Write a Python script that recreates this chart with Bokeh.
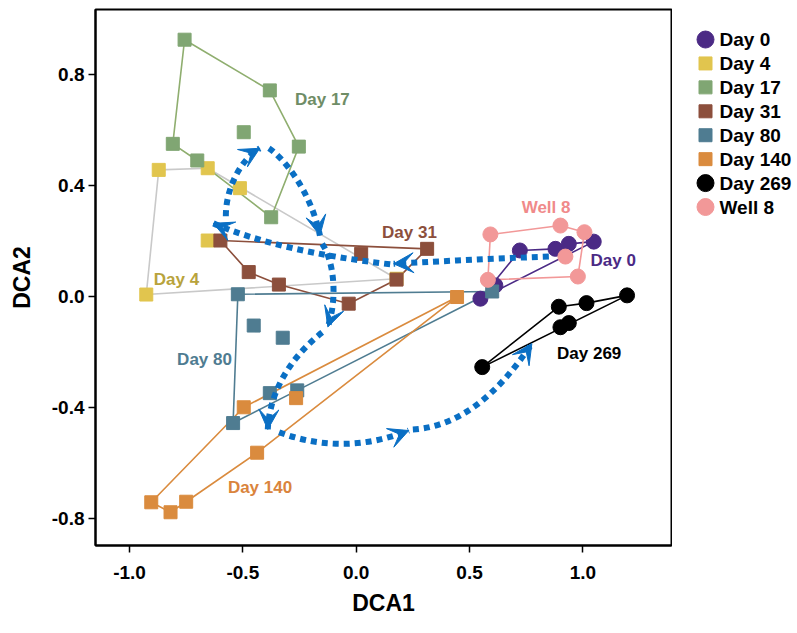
from bokeh.plotting import figure
from bokeh.layouts import row
from bokeh.models import (Range1d, Arrow, VeeHead, FixedTicker,
                          PrintfTickFormatter, ColumnDataSource)
from bokeh.embed import file_html
from bokeh.resources import INLINE
from bokeh.core.properties import value

# ---------------- data ----------------
groups = ["Day 0", "Day 4", "Day 17", "Day 31", "Day 80", "Day 140", "Day 269", "Well 8"]

day0_x = [0.548, 0.614, 0.722, 0.879, 0.938, 1.048]
day0_y = [-0.008, 0.040, 0.166, 0.172, 0.190, 0.198]
day0_hull = [0, 2, 3, 4, 5]

day4_x = [-0.926, -0.871, -0.655, -0.513, -0.655, 0.178]
day4_y = [0.007, 0.457, 0.463, 0.391, 0.202, 0.064]
day4_hull = [0, 1, 2, 5]

day17_x = [-0.809, -0.757, -0.381, -0.253, -0.375, -0.701, -0.496]
day17_y = [0.551, 0.927, 0.744, 0.541, 0.286, 0.491, 0.593]
day17_hull = [0, 1, 2, 3, 4, 5]

day31_x = [-0.599, -0.474, -0.341, -0.033, 0.022, 0.313, 0.178]
day31_y = [0.202, 0.088, 0.043, -0.026, 0.154, 0.172, 0.061]
day31_hull = [0, 5, 6, 3, 2, 1]

day80_x = [-0.522, -0.452, -0.324, -0.381, -0.260, -0.543, 0.600]
day80_y = [0.008, -0.105, -0.149, -0.349, -0.339, -0.457, 0.018]
day80_hull = [0, 6, 4, 5]

day140_x = [-0.904, -0.819, -0.750, -0.496, -0.437, -0.265, 0.445]
day140_y = [-0.743, -0.779, -0.741, -0.400, -0.564, -0.367, -0.002]
day140_hull = [6, 3, 0, 1, 2, 4]

day269_x = [0.556, 0.894, 1.016, 1.195, 0.938, 0.901]
day269_y = [-0.255, -0.037, -0.024, 0.004, -0.096, -0.111]
day269_hull = [0, 1, 2, 3]

well8_x = [0.581, 0.592, 0.901, 1.007, 0.923, 0.978]
well8_y = [0.060, 0.224, 0.256, 0.232, 0.144, 0.072]
well8_hull = [0, 1, 2, 3, 5]

series_x = [day0_x, day4_x, day17_x, day31_x, day80_x, day140_x, day269_x, well8_x]
series_y = [day0_y, day4_y, day17_y, day31_y, day80_y, day140_y, day269_y, well8_y]
series_hull = [day0_hull, day4_hull, day17_hull, day31_hull, day80_hull, day140_hull,
               day269_hull, well8_hull]

# group label anchors (data coordinates)
label_text = ["Day 0", "Day 4", "Day 17", "Day 31", "Day 80", "Day 140", "Day 269", "Well 8"]
label_x = [1.034, -0.893, -0.27, 0.114, -0.79, -0.566, 0.886, 0.73]
label_y = [0.13, 0.06, 0.71, 0.232, -0.226, -0.69, -0.205, 0.322]

# trajectory arrows (cubic curves in data coordinates)
arr_x0 = [0.85, 0.15, -0.575, -0.385, -0.15, -0.15, -0.34, 0.25]
arr_y0 = [0.144, 0.116, 0.29, 0.535, 0.19, -0.13, -0.49, -0.48]
arr_cx0 = [0.60, -0.175, -0.575, -0.32, -0.10, -0.26, -0.151, 0.45]
arr_cy0 = [0.137, 0.147, 0.40, 0.50, 0.13, -0.20, -0.548, -0.47]
arr_cx1 = [0.40, -0.437, -0.50, -0.20, -0.08, -0.38, 0.040, 0.62]
arr_cy1 = [0.128, 0.196, 0.50, 0.38, 0.0, -0.32, -0.546, -0.36]
arr_x1 = [0.165, -0.63, -0.425, -0.16, -0.125, -0.39, 0.232, 0.775]
arr_y1 = [0.118, 0.264, 0.535, 0.22, -0.11, -0.48, -0.484, -0.17]

x_ticks = [-1.0, -0.5, 0.0, 0.5, 1.0]
y_ticks = [-0.8, -0.4, 0.0, 0.4, 0.8]

# ---------------- styles ----------------
FONT = "Liberation Sans"
marker_of = ["circle", "square", "square", "square", "square", "square", "circle", "circle"]
size_of = [15, 13, 13, 13, 13, 13, 15, 15]
legend_size_of = [17, 13, 13, 13, 13, 13, 17, 17]
point_color = ["#4b2a85", "#e1c54e", "#80a673", "#8c4f3c", "#4f7c91", "#da8b3e", "#000000", "#f29898"]
hull_color = ["#4b2a85", "#c9c9c9", "#8fae6f", "#8c4f3c", "#4f7c91", "#da8b3e", "#000000", "#f29898"]
label_color = ["#4b2a85", "#b8a33c", "#6f8d66", "#8c4f3c", "#4f7c91", "#da843c", "#000000", "#f08a8a"]
ARROW_BLUE = "#0a6fc4"

H = 625
p = figure(width=672, height=H, output_backend="svg", toolbar_location=None,
           x_range=Range1d(-1.15, 1.391), y_range=Range1d(-0.899, 1.036),
           min_border_left=95, min_border_right=1, min_border_top=9, min_border_bottom=80)

p.xgrid.visible = False
p.ygrid.visible = False
p.outline_line_color = "black"
p.outline_line_width = 2
p.background_fill_color = "white"

for ax in (p.xaxis[0], p.yaxis[0]):
    ax.axis_line_width = 2
    ax.axis_line_color = "black"
    ax.major_tick_line_width = 1.5
    ax.major_tick_out = 7
    ax.major_tick_in = 0
    ax.minor_tick_out = 0
    ax.minor_tick_in = 0
    ax.major_label_text_font = FONT
    ax.major_label_text_font_style = "bold"
    ax.major_label_text_font_size = "19px"
    ax.major_label_text_color = "black"
    ax.axis_label_text_font = FONT
    ax.axis_label_text_font_style = "bold"
    ax.axis_label_text_font_size = "23px"
    ax.axis_label_text_color = "black"
    ax.formatter = PrintfTickFormatter(format="%.1f")

p.xaxis[0].ticker = FixedTicker(ticks=x_ticks)
p.yaxis[0].ticker = FixedTicker(ticks=y_ticks)
p.xaxis[0].axis_label = "DCA1"
p.yaxis[0].axis_label = "DCA2"
p.xaxis[0].major_label_standoff = 13
p.yaxis[0].major_label_standoff = 4
p.xaxis[0].axis_label_standoff = 8
p.yaxis[0].axis_label_standoff = 14

# hulls
for i in range(len(groups)):
    hx = [series_x[i][k] for k in series_hull[i]]
    hy = [series_y[i][k] for k in series_hull[i]]
    p.patch(hx, hy, fill_alpha=0, line_color=hull_color[i], line_width=1.6)

# points
for i, g in enumerate(groups):
    src = ColumnDataSource(dict(x=series_x[i], y=series_y[i]))
    p.scatter("x", "y", source=src, marker=marker_of[i], size=size_of[i],
              fill_color=point_color[i], line_color=point_color[i], line_width=1)

# group labels
lsrc = ColumnDataSource(dict(x=label_x, y=label_y, text=label_text, color=label_color))
p.text("x", "y", text="text", source=lsrc, text_color="color",
       text_font=value(FONT), text_font_style="bold", text_font_size="17px",
       text_align="left", text_baseline="middle")

# trajectory arrows
p.bezier(x0=arr_x0, y0=arr_y0, x1=arr_x1, y1=arr_y1,
         cx0=arr_cx0, cy0=arr_cy0, cx1=arr_cx1, cy1=arr_cy1,
         line_color=ARROW_BLUE, line_width=6, line_dash="6 5", line_cap="butt")
for i in range(len(arr_x1)):
    p.add_layout(Arrow(end=VeeHead(size=20, fill_color=ARROW_BLUE, line_color=ARROW_BLUE,
                                   line_width=1),
                       x_start=arr_cx1[i], y_start=arr_cy1[i], x_end=arr_x1[i], y_end=arr_y1[i],
                       line_alpha=0))

# ---------------- legend panel ----------------
LW = 124
row_px = 27.9
first_px = 35.0
leg = figure(width=LW, height=H, output_backend="svg", toolbar_location=None,
             x_range=Range1d(0, LW),
             y_range=Range1d(start=(H - first_px) / row_px, end=-first_px / row_px),
             x_axis_type=None, y_axis_type=None,
             min_border_left=0, min_border_right=0, min_border_top=0, min_border_bottom=0)
leg.outline_line_color = None
leg.xgrid.visible = False
leg.ygrid.visible = False
leg_idx = list(range(len(groups)))
leg_src = ColumnDataSource(dict(
    x=[33] * len(groups), tx=[47] * len(groups), y=leg_idx, text=groups,
    marker=marker_of, size=legend_size_of, color=point_color))
leg.scatter("x", "y", source=leg_src, marker="marker", size="size",
            fill_color="color", line_color="color")
leg.text("tx", "y", text="text", source=leg_src, text_color="black",
         text_font=value(FONT), text_font_style="bold", text_font_size="19px",
         text_align="left", text_baseline="middle")

layout = row(p, leg)
open("out.html", "w").write(file_html(layout, INLINE))
